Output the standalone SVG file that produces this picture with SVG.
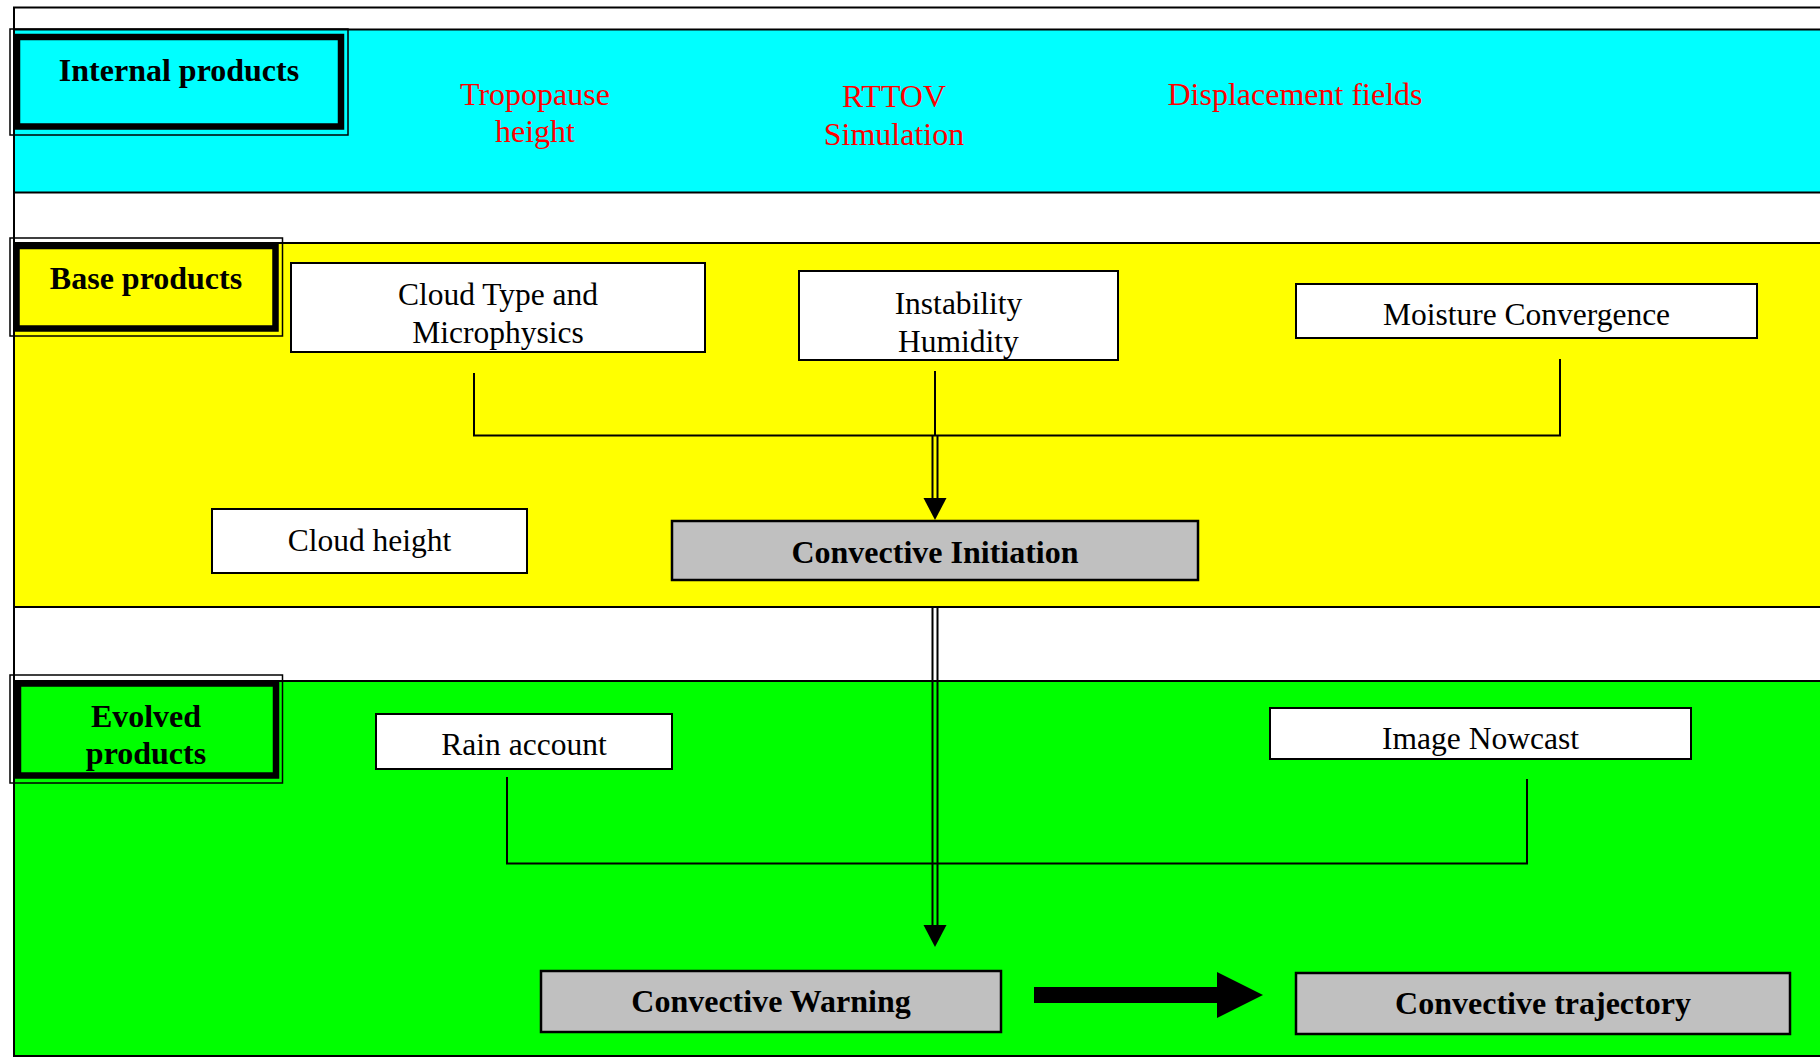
<svg xmlns="http://www.w3.org/2000/svg" xmlns:xlink="http://www.w3.org/1999/xlink" width="1820" height="1057" viewBox="0 0 1820 1057">
<style>
text{font-family:"Liberation Serif","Times New Roman",serif;text-anchor:middle}
.reg{font-size:31.5px;fill:#000}
.bold{font-size:32px;font-weight:bold;fill:#000}
.red{font-size:32px;fill:#ff0000}
.band{stroke:#000;stroke-width:2}
.node{fill:#fff;stroke:#000;stroke-width:2}
.gray{fill:#c0c0c0;stroke:#000;stroke-width:2.5}
.thin{fill:none;stroke:#000;stroke-width:1.5}
.thick{stroke:#000;stroke-width:6.5}
.ln{fill:none;stroke:#000;stroke-width:2}
.dbl{fill:none;stroke:#000;stroke-width:2}
</style>
<defs>
<path id="ah" d="M-11.5,-22 L11.5,-22 L0,0 Z" fill="#000"/>
</defs>
<rect width="1820" height="1057" fill="#fff"/>
<!-- outer frame -->
<path d="M14,1057 L14,7.5 L1830,7.5" fill="none" stroke="#000" stroke-width="2"/>
<!-- bands -->
<rect class="band" x="14" y="29.5" width="1830" height="163" fill="#00ffff"/>
<rect class="band" x="14" y="243" width="1830" height="364" fill="#ffff00"/>
<rect class="band" x="14" y="681" width="1830" height="375" fill="#00ff00"/>

<g id="internal-products">
<rect class="thin" x="10" y="29" width="338" height="106"/>
<rect class="thick" x="17" y="37" width="324" height="89.5" fill="#00ffff"/>
<text class="bold" x="179" y="81">Internal products</text>
</g>
<g id="tropopause-height">
<text class="red" x="535" y="105">Tropopause</text>
<text class="red" x="535" y="142">height</text>
</g>
<g id="rttov-simulation">
<text class="red" x="894" y="107">RTTOV</text>
<text class="red" x="894" y="145">Simulation</text>
</g>
<g id="displacement-fields">
<text class="red" x="1295" y="105">Displacement fields</text>
</g>

<g id="base-products">
<rect class="thin" x="10" y="238" width="272.5" height="98"/>
<rect class="thick" x="16.5" y="246" width="259" height="82.5" fill="#ffff00"/>
<text class="bold" x="146" y="289">Base products</text>
</g>
<g id="cloud-type">
<rect class="node" x="291" y="263" width="414" height="89"/>
<text class="reg" x="498" y="305">Cloud Type and</text>
<text class="reg" x="498" y="343">Microphysics</text>
</g>
<g id="instability-humidity">
<rect class="node" x="799" y="271" width="319" height="89"/>
<text class="reg" x="958.5" y="314">Instability</text>
<text class="reg" x="958.5" y="352">Humidity</text>
</g>
<g id="moisture-convergence">
<rect class="node" x="1296" y="284" width="461" height="54"/>
<text class="reg" x="1526.5" y="325">Moisture Convergence</text>
</g>
<g id="cloud-height">
<rect class="node" x="212" y="509" width="315" height="64"/>
<text class="reg" x="369.5" y="551">Cloud height</text>
</g>
<g id="convective-initiation">
<rect class="gray" x="672" y="521" width="526" height="59"/>
<text class="bold" x="935" y="563">Convective Initiation</text>
</g>

<g id="evolved-products">
<rect class="thin" x="10" y="675" width="272.5" height="108"/>
<rect class="thick" x="18" y="683.5" width="258" height="92" fill="#00ff00"/>
<text class="bold" x="146" y="727">Evolved</text>
<text class="bold" x="146" y="764">products</text>
</g>
<g id="rain-account">
<rect class="node" x="376" y="714" width="296" height="55"/>
<text class="reg" x="524" y="755">Rain account</text>
</g>
<g id="image-nowcast">
<rect class="node" x="1270" y="708" width="421" height="51"/>
<text class="reg" x="1480.5" y="749">Image Nowcast</text>
</g>
<g id="convective-warning">
<rect class="gray" x="541" y="971" width="460" height="61"/>
<text class="bold" x="771" y="1012">Convective Warning</text>
</g>
<g id="convective-trajectory">
<rect class="gray" x="1296" y="973" width="494" height="61"/>
<text class="bold" x="1543" y="1014">Convective trajectory</text>
</g>

<g id="connectors">
<path class="ln" d="M474,373 L474,435.5 L1560,435.5 L1560,359"/>
<path class="ln" d="M935,371 L935,435.5"/>
<path class="dbl" d="M932.5,435.5 L932.5,500 M937.5,435.5 L937.5,500"/>
<use xlink:href="#ah" x="935" y="520"/>
<path class="ln" d="M507,777 L507,863.5 L1527,863.5 L1527,779"/>
<path class="dbl" d="M932.5,607 L932.5,927 M937.5,607 L937.5,927"/>
<use xlink:href="#ah" x="935" y="947"/>
<polygon points="1034,987 1217,987 1217,972 1263,995 1217,1018 1217,1003 1034,1003" fill="#000"/>
</g>
</svg>
